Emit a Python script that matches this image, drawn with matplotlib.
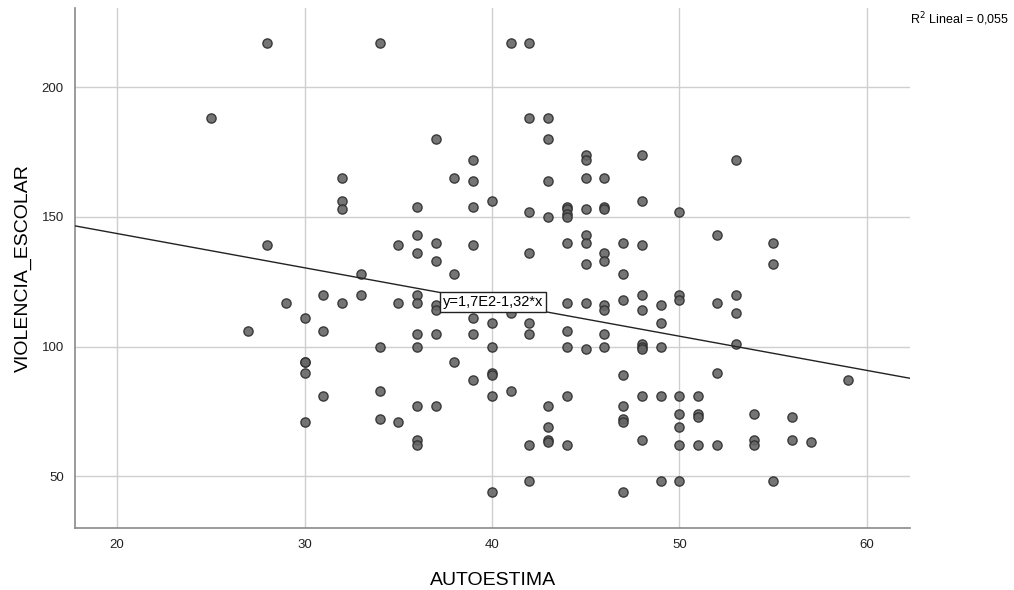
import numpy as np
import matplotlib.pyplot as plt

plt.rcParams['font.family'] = ['Liberation Sans', 'DejaVu Sans']

# ------------------------------
# Data (AUTOESTIMA -> list of VIOLENCIA_ESCOLAR values)
# ------------------------------
autoestima_groups = [25, 27, 28, 29, 30, 31, 32, 33, 34, 35, 36, 37, 38, 39, 40,
                     41, 42, 43, 44, 45, 46, 47, 48, 49, 50, 51, 52, 53, 54,
                     55, 56, 57, 59]
violencia_groups = [
    [188],
    [106],
    [217, 139],
    [117],
    [111, 94, 94, 90, 71],
    [120, 106, 81],
    [165, 156, 153, 117],
    [128, 120],
    [217, 100, 83, 72],
    [139, 117, 71],
    [154, 143, 136, 120, 117, 105, 100, 77, 64, 62],
    [180, 140, 133, 116, 114, 105, 77],
    [165, 128, 94],
    [172, 164, 154, 139, 111, 105, 87],
    [156, 109, 100, 90, 89, 81, 44],
    [217, 113, 83],
    [217, 188, 152, 136, 109, 105, 62, 48],
    [188, 180, 164, 150, 77, 69, 64, 63],
    [154, 153, 151, 150, 140, 117, 106, 100, 81, 62],
    [174, 172, 165, 153, 143, 140, 132, 117, 99],
    [165, 154, 153, 136, 133, 116, 114, 105, 100],
    [140, 128, 118, 89, 77, 72, 71, 44],
    [174, 156, 139, 120, 114, 101, 100, 99, 81, 64],
    [116, 109, 100, 81, 48],
    [152, 120, 118, 81, 74, 69, 62, 48],
    [81, 74, 73, 62],
    [143, 117, 90, 62],
    [172, 120, 113, 101],
    [74, 64, 62],
    [140, 132, 48],
    [73, 64],
    [63],
    [87],
]

# fitted line reported by the chart
intercept = 170.0
slope = -1.32
r2_text = "R$^{2}$ Lineal = 0,055"
eq_text = "y=1,7E2-1,32*x"

x = []
y = []
for a, vals in zip(autoestima_groups, violencia_groups):
    for v in vals:
        x.append(a)
        y.append(v)

# ------------------------------
# Plot
# ------------------------------
fig = plt.figure(figsize=(10.14, 5.90), dpi=100)
ax = fig.add_axes([0.074, 0.105, 0.8235, 0.881])

ax.set_xlim(17.76, 62.3)
ax.set_ylim(30, 230.5)
ax.set_xticks([20, 30, 40, 50, 60])
ax.set_yticks([50, 100, 150, 200])
ax.grid(True, color='#cfcfcf', linewidth=1)
ax.set_axisbelow(True)
ax.tick_params(length=0, labelsize=9.5, colors='#222222', pad=8)

for s in ['top', 'right']:
    ax.spines[s].set_visible(False)
for s in ['left', 'bottom']:
    ax.spines[s].set_color('#8a8a8a')
    ax.spines[s].set_linewidth(1.2)

ax.scatter(x, y, s=44, facecolor='#666666', edgecolor='#2e2e2e',
           linewidth=1, alpha=0.9, zorder=3)

xl = np.array(ax.get_xlim())
ax.plot(xl, intercept + slope * xl, color='#222222', linewidth=1, zorder=4)

ax.text(40.05, intercept + slope * 40.05, eq_text, fontsize=10.5,
        ha='center', va='center', zorder=5,
        bbox=dict(boxstyle='square,pad=0.2', facecolor='white',
                  edgecolor='#222222', linewidth=1))

ax.set_xlabel("AUTOESTIMA", fontsize=14, labelpad=15)
ax.set_ylabel("VIOLENCIA_ESCOLAR", fontsize=14, labelpad=7)

fig.text(0.897, 0.968, r2_text, fontsize=9, ha='left', va='center')

fig.savefig('out.png', dpi=100)
